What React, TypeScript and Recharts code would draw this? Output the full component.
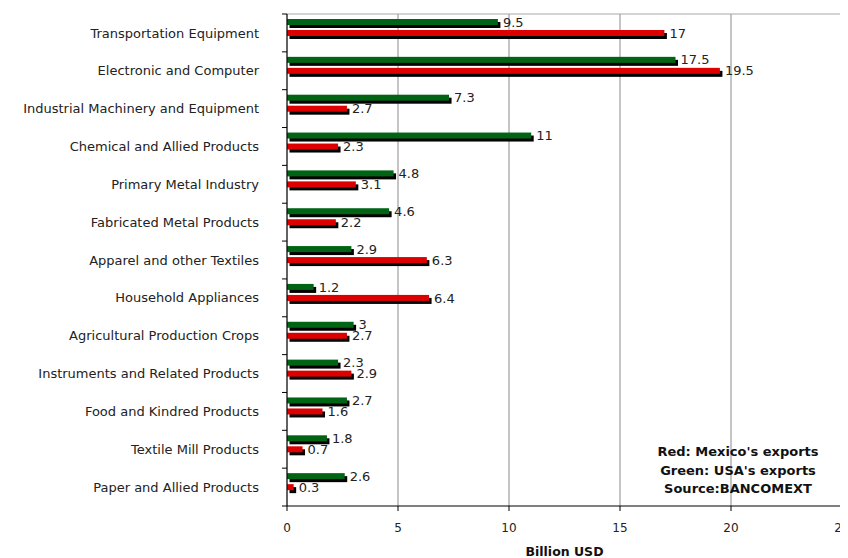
import React from 'react';
import { BarChart, Bar, XAxis, YAxis, CartesianGrid, LabelList } from 'recharts';

const categories = [
  'Transportation Equipment',
  'Electronic and Computer',
  'Industrial Machinery and Equipment',
  'Chemical and Allied Products',
  'Primary Metal Industry',
  'Fabricated Metal Products',
  'Apparel and other Textiles',
  'Household Appliances',
  'Agricultural Production Crops',
  'Instruments and Related Products',
  'Food and Kindred Products',
  'Textile Mill Products',
  'Paper and Allied Products',
];

const usaExports = [9.5, 17.5, 7.3, 11, 4.8, 4.6, 2.9, 1.2, 3, 2.3, 2.7, 1.8, 2.6];
const mexicoExports = [17, 19.5, 2.7, 2.3, 3.1, 2.2, 6.3, 6.4, 2.7, 2.9, 1.6, 0.7, 0.3];

const xTicks = [0, 5, 10, 15, 20, 25];
const notes = ["Red: Mexico's exports", "Green: USA's exports", 'Source:BANCOMEXT'];

const data = categories.map((name, i) => ({ name, usa: usaExports[i], mexico: mexicoExports[i] }));

const FONT = '"DejaVu Sans", Verdana, sans-serif';
const TICK_MARGIN = 28;
const TICK_LEN = 5;

const ShadowBar = (color: string) => (props: any) => {
  const { x, y, width, height } = props;
  if (width == null || height == null || !(width > 0)) return <g />;
  return (
    <g>
      <rect x={x + 2.5} y={y + 3} width={width} height={height} fill="#000" />
      <rect x={x} y={y} width={width} height={height} fill={color} />
    </g>
  );
};

const CategoryTick = (props: any) => {
  const { x, y, payload, index } = props;
  const half = payload && typeof payload.offset === 'number' ? payload.offset : 0;
  const axisX = x + TICK_MARGIN;
  const isLast = index === categories.length - 1;
  return (
    <g>
      <text x={x} y={y} dy="0.355em" textAnchor="end" fontSize={13} fill="#222" fontFamily={FONT}>
        {payload.value}
      </text>
      {half > 0 && <line x1={axisX - TICK_LEN} x2={axisX} y1={y - half} y2={y - half} stroke="#000" />}
      {half > 0 && isLast && (
        <line x1={axisX - TICK_LEN} x2={axisX} y1={y + half} y2={y + half} stroke="#000" />
      )}
    </g>
  );
};

export default function App() {
  return (
    <div style={{ position: 'relative', width: 840, height: 550, fontFamily: FONT }}>
      <style>{'.recharts-wrapper svg, .recharts-surface{overflow:visible !important}'}</style>
      <BarChart
        layout="vertical"
        width={840}
        height={550}
        data={data}
        margin={{ top: 5, right: 6, bottom: 2, left: 1 }}
        barSize={6}
        barGap={5}
        style={{ overflow: 'visible' }}
      >
        <CartesianGrid horizontal={false} stroke="#8a8a8a" xAxisId="bottom" yAxisId="cat" />
        <XAxis
          xAxisId="top"
          orientation="top"
          type="number"
          domain={[0, 25]}
          height={1}
          tick={false}
          tickLine={false}
          axisLine={{ stroke: '#a8a8a8' }}
        />
        <XAxis
          xAxisId="bottom"
          type="number"
          domain={[0, 25]}
          ticks={xTicks}
          interval={0}
          tickSize={5}
          tickMargin={12}
          height={50}
          axisLine={{ stroke: '#000' }}
          tickLine={{ stroke: '#000' }}
          tick={{ fontSize: 12, fill: '#222', fontFamily: FONT }}
          label={{
            value: 'Billion USD',
            position: 'insideBottom',
            offset: 0,
            style: { fontSize: 12.5, fontWeight: 'bold', fill: '#111', fontFamily: FONT },
          }}
        />
        <YAxis
          yAxisId="cat"
          type="category"
          dataKey="name"
          width={278}
          interval={0}
          axisLine={{ stroke: '#000' }}
          tickLine={false}
          tickSize={0}
          tickMargin={TICK_MARGIN}
          tick={CategoryTick}
        />
        <Bar
          dataKey="usa"
          xAxisId="bottom"
          yAxisId="cat"
          fill="#006414"
          shape={ShadowBar('#006414')}
          isAnimationActive={false}
        >
          <LabelList dataKey="usa" position="right" offset={5} style={{ fontSize: 13, fill: '#222', fontFamily: FONT }} />
        </Bar>
        <Bar
          dataKey="mexico"
          xAxisId="bottom"
          yAxisId="cat"
          fill="#dd0000"
          shape={ShadowBar('#dd0000')}
          isAnimationActive={false}
        >
          <LabelList dataKey="mexico" position="right" offset={5} style={{ fontSize: 13, fill: '#222', fontFamily: FONT }} />
        </Bar>
        <Bar dataKey="spacer" xAxisId="bottom" yAxisId="cat" fill="none" legendType="none" isAnimationActive={false} />
      </BarChart>
      <div
        style={{
          position: 'absolute',
          left: 630,
          top: 435,
          width: 200,
          textAlign: 'center',
          fontSize: 13,
          fontWeight: 'bold',
          lineHeight: '18.5px',
          color: '#111',
          fontFamily: FONT,
        }}
      >
        {notes.map((n) => (
          <div key={n}>{n}</div>
        ))}
      </div>
    </div>
  );
}
